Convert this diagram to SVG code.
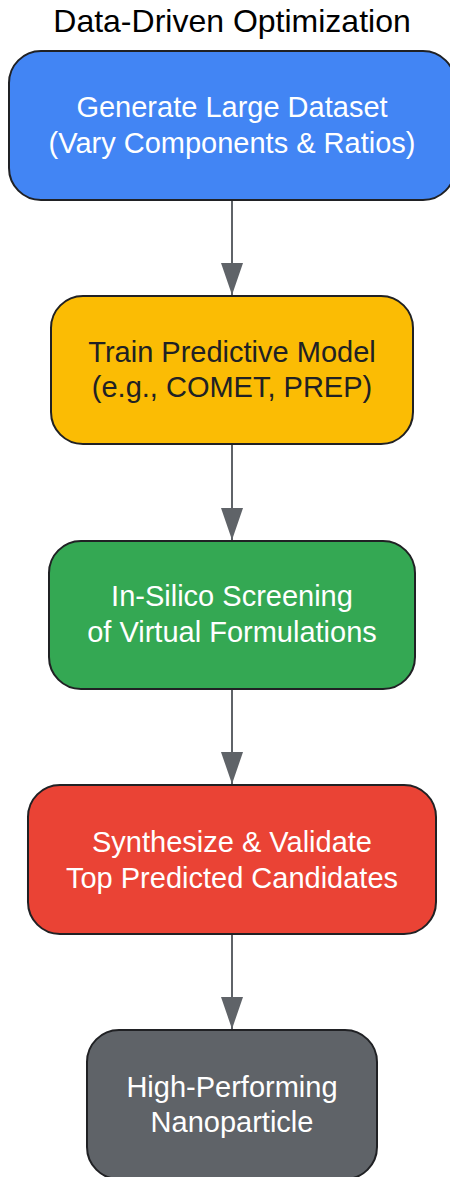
<svg xmlns="http://www.w3.org/2000/svg" width="450" height="1177" viewBox="0 0 450 1177">
<style>
.n{stroke:#202124;stroke-width:2}
.t{font-family:"Liberation Sans",Arial,sans-serif;font-size:29px;text-anchor:middle;fill:#ffffff}
.d{fill:#202124}
.e{stroke:#5F6368;stroke-width:2;fill:none}
</style>
<defs>
<marker id="ah" viewBox="0 0 32 22" refX="32" refY="11" markerWidth="32" markerHeight="22" markerUnits="userSpaceOnUse" orient="auto">
<path d="M0,0 L32,11 L0,22 Z" fill="#5F6368"/>
</marker>
</defs>
<rect width="450" height="1177" fill="#ffffff"/>
<text x="232" y="32" font-family="Liberation Sans,Arial,sans-serif" font-size="32" text-anchor="middle" fill="#000000">Data-Driven Optimization</text>
<g id="edges">
<path class="e" d="M232,200 V295" marker-end="url(#ah)"/>
<path class="e" d="M232,444 V540" marker-end="url(#ah)"/>
<path class="e" d="M232,689 V784" marker-end="url(#ah)"/>
<path class="e" d="M232,934 V1029" marker-end="url(#ah)"/>
</g>
<g id="n1">
<rect class="n" x="9" y="51" width="446" height="149" rx="32" fill="#4285F4"/>
<text class="t" x="232" y="117">Generate Large Dataset</text>
<text class="t" x="232" y="153">(Vary Components &amp; Ratios)</text>
</g>
<g id="n2">
<rect class="n" x="51" y="296" width="362" height="148" rx="32" fill="#FBBC04"/>
<text class="t d" x="232" y="362">Train Predictive Model</text>
<text class="t d" x="232" y="397">(e.g., COMET, PREP)</text>
</g>
<g id="n3">
<rect class="n" x="49" y="541" width="366" height="148" rx="32" fill="#34A853"/>
<text class="t" x="232" y="606">In-Silico Screening</text>
<text class="t" x="232" y="642">of Virtual Formulations</text>
</g>
<g id="n4">
<rect class="n" x="28" y="785" width="408" height="149" rx="32" fill="#EA4335"/>
<text class="t" x="232" y="852">Synthesize &amp; Validate</text>
<text class="t" x="232" y="888">Top Predicted Candidates</text>
</g>
<g id="n5">
<rect class="n" x="87" y="1030" width="290" height="149" rx="32" fill="#5F6368"/>
<text class="t" x="232" y="1097">High-Performing</text>
<text class="t" x="232" y="1132">Nanoparticle</text>
</g>
</svg>
